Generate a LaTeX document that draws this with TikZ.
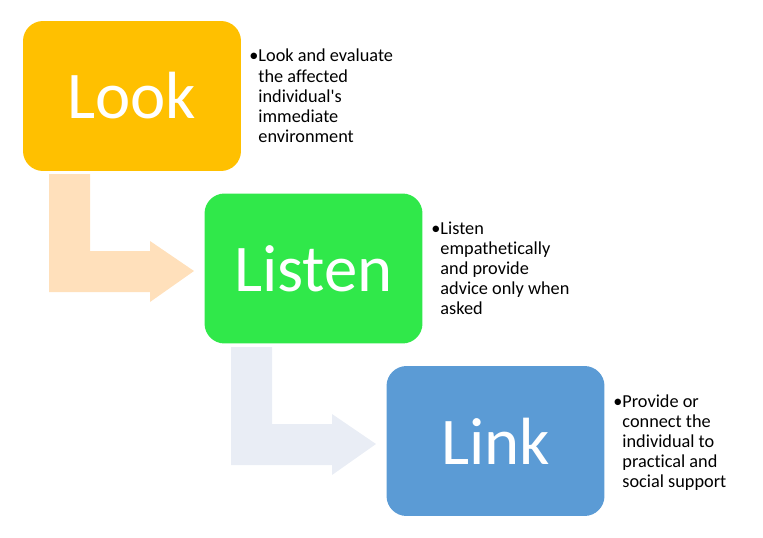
\documentclass[tikz,border=0pt]{standalone}
\usepackage{fontspec}
\setmainfont{Carlito}[Ligatures=NoCommon]
\usepackage{tikz}
\usetikzlibrary{positioning, calc}
\definecolor{lookorange}{HTML}{FFC000}
\definecolor{listengreen}{HTML}{30E84A}
\definecolor{linkblue}{HTML}{5B9BD5}
\definecolor{arrowpeach}{HTML}{FFE0BB}
\definecolor{arrowgrey}{HTML}{E9EDF5}

\begin{document}
\begin{tikzpicture}[
                x=0.02cm, y=-0.02cm,
                stepbox/.style={rectangle, rounded corners=0.4cm, minimum width=4.36cm, minimum height=3cm, inner sep=0pt, text=white, font=\fontsize{38}{40}\selectfont},
                bullettext/.style={anchor=base west, inner sep=0pt, align=left, font=\fontsize{10.4}{11.4}\selectfont},
                bentarrow/.pic={\fill[pic actions] (0,0) -- (41,0) -- (41,77) -- (101,77) -- (101,67) -- (145,97) -- (101,128) -- (101,118) -- (0,118) -- cycle;}
            ]
            \useasboundingbox (0,0) rectangle (763,537);

            % Pfeile
            \pic[fill=arrowpeach] at (49,174) {bentarrow};
            \pic[fill=arrowgrey] at (231,347) {bentarrow};

            % Knoten
            \node[stepbox, fill=lookorange] (Look) at (132,96) {Look};
            \node[stepbox, fill=listengreen] (Listen) at (313.5,268.5) {Listen};
            \node[stepbox, fill=linkblue] (Link) at (495.5,441) {Link};

            % Texte
            \node[bullettext] (LookText) at (249,62) {\textbullet\parbox[t]{3cm}{Look and evaluate\\the affected\\individual\textquotesingle s\\immediate\\environment}};
            \node[bullettext] (ListenText) at (431,234.5) {\textbullet\parbox[t]{3cm}{Listen\\empathetically\\and provide\\advice only when\\asked}};
            \node[bullettext] (LinkText) at (613,407) {\textbullet\parbox[t]{3cm}{Provide or\\connect the\\individual to\\practical and\\social support}};

        \end{tikzpicture}
\end{document}
